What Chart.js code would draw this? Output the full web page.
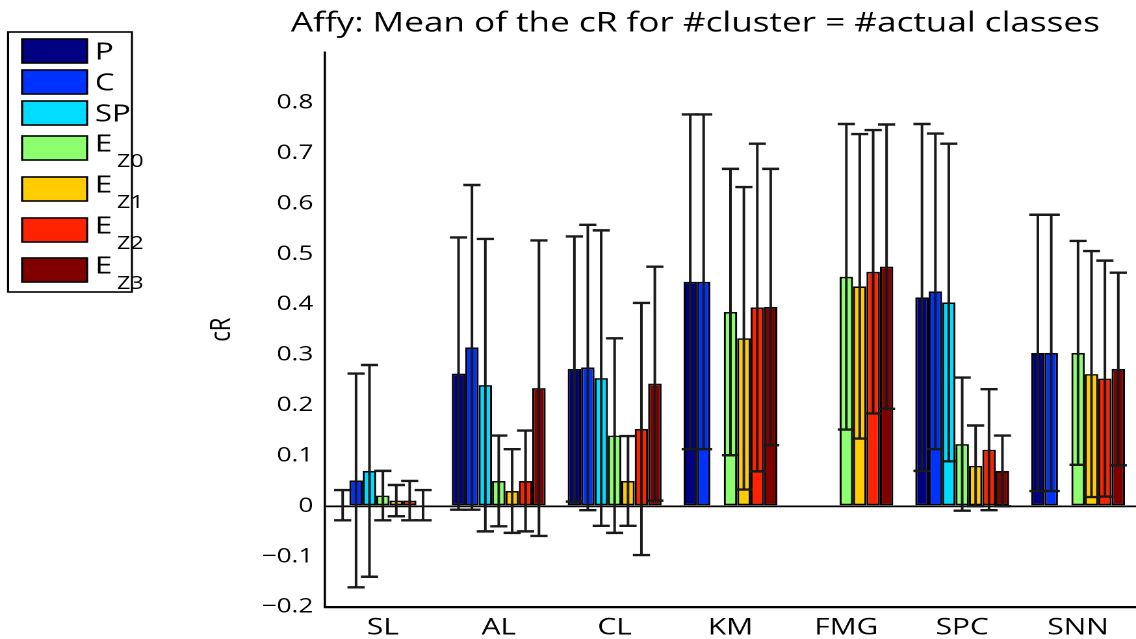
<!DOCTYPE html>
<html>
<head>
<meta charset="utf-8">
<script src="https://cdn.jsdelivr.net/npm/chart.js@4.4.1/dist/chart.umd.min.js"></script>
<style>
  html, body { margin: 0; padding: 0; background: #fff; overflow: hidden; }
  #wrap { position: absolute; left: 0; top: 0; width: 874px; height: 639px;
          transform: scaleX(1.29977); transform-origin: 0 0; }
</style>
</head>
<body>
<div id="wrap"><canvas id="c"></canvas></div>
<script>
// ---- data ----
const categories = ['SL', 'AL', 'CL', 'KM', 'FMG', 'SPC', 'SNN'];
const seriesMain = ['P', 'C', 'SP', 'E', 'E', 'E', 'E'];
const seriesSub  = ['', '', '', 'Z0', 'Z1', 'Z2', 'Z3'];
const seriesColors = ['#000080', '#0032ff', '#00dcff', '#8cff6e', '#ffcc00', '#ff2200', '#800000'];

const meanP   = [0.002, 0.263, 0.272, 0.445, null, 0.414, 0.304];
const meanC   = [0.051, 0.315, 0.275, 0.445, null, 0.426, 0.304];
const meanSP  = [0.070, 0.240, 0.254, null, null, 0.404, null];
const meanEz0 = [0.021, 0.050, 0.140, 0.385, 0.455, 0.123, 0.304];
const meanEz1 = [0.011, 0.030, 0.050, 0.333, 0.436, 0.080, 0.262];
const meanEz2 = [0.011, 0.050, 0.153, 0.394, 0.465, 0.112, 0.253];
const meanEz3 = [0.002, 0.234, 0.243, 0.395, 0.475, 0.070, 0.272];

const errP   = [0.030, 0.270, 0.263, 0.332, null, 0.344, 0.274];
const errC   = [0.212, 0.322, 0.283, 0.332, null, 0.313, 0.274];
const errSP  = [0.210, 0.290, 0.293, null, null, 0.315, null];
const errEz0 = [0.049, 0.090, 0.193, 0.284, 0.303, 0.132, 0.222];
const errEz1 = [0.031, 0.083, 0.089, 0.300, 0.302, 0.080, 0.244];
const errEz2 = [0.039, 0.100, 0.250, 0.325, 0.281, 0.120, 0.234];
const errEz3 = [0.030, 0.293, 0.232, 0.274, 0.282, 0.070, 0.191];

const yTickValues = [-0.2, -0.1, 0, 0.1, 0.2, 0.3, 0.4, 0.5, 0.6, 0.7, 0.8];
const titleText = 'Affy: Mean of the cR for #cluster = #actual classes';
const yTitle = 'cR';

const means = [meanP, meanC, meanSP, meanEz0, meanEz1, meanEz2, meanEz3];
const errs  = [errP, errC, errSP, errEz0, errEz1, errEz2, errEz3];

const FONT = '"Open Sans", "DejaVu Sans", sans-serif';
Chart.defaults.font.family = FONT;
Chart.defaults.color = '#000';

const datasets = means.map((m, i) => ({
  label: seriesMain[i] + seriesSub[i],
  data: m,
  errors: errs[i],
  backgroundColor: seriesColors[i],
  borderColor: '#000',
  borderWidth: 1.6,
  borderSkipped: false,
  categoryPercentage: 0.81,
  barPercentage: 1.0
}));

const errorBarPlugin = {
  id: 'errorBars',
  afterDatasetsDraw(chart) {
    const ctx = chart.ctx;
    const ys = chart.scales.y;
    ctx.save();
    ctx.strokeStyle = '#1a1a1a';
    chart.data.datasets.forEach((ds, i) => {
      const meta = chart.getDatasetMeta(i);
      meta.data.forEach((el, j) => {
        const m = ds.data[j], e = ds.errors[j];
        if (m === null || e === null) return;
        const x = el.x;
        const yt = ys.getPixelForValue(m + e);
        const yb = ys.getPixelForValue(m - e);
        const half = el.width * 0.64;
        ctx.lineWidth = 2;
        ctx.beginPath();
        ctx.moveTo(x, yt); ctx.lineTo(x, yb);
        ctx.stroke();
        ctx.lineWidth = 2.4;
        ctx.beginPath();
        ctx.moveTo(x - half, yt); ctx.lineTo(x + half, yt);
        ctx.moveTo(x - half, yb); ctx.lineTo(x + half, yb);
        ctx.stroke();
      });
    });
    ctx.restore();
  }
};

const decorPlugin = {
  id: 'decor',
  afterDraw(chart) {
    const ctx = chart.ctx;
    ctx.save();
    // title
    ctx.fillStyle = '#000';
    ctx.font = '27px ' + FONT;
    ctx.textAlign = 'center';
    ctx.textBaseline = 'alphabetic';
    ctx.fillText(titleText, 535, 31.5);
    // legend box
    ctx.lineWidth = 1.6;
    ctx.strokeStyle = '#000';
    ctx.fillStyle = '#fff';
    ctx.fillRect(6.2, 32, 95.3, 260);
    ctx.strokeRect(6.2, 32, 95.3, 260);
    const rowY = [51, 82, 113, 148, 189, 230, 270];
    chart.data.datasets.forEach((ds, i) => {
      const cy = rowY[i];
      ctx.fillStyle = ds.backgroundColor;
      ctx.fillRect(17, cy - 12, 50, 24);
      ctx.lineWidth = 1.6;
      ctx.strokeRect(17, cy - 12, 50, 24);
      ctx.fillStyle = '#000';
      ctx.textAlign = 'left';
      ctx.textBaseline = 'alphabetic';
      ctx.font = '24px ' + FONT;
      if (seriesSub[i]) {
        ctx.fillText(seriesMain[i], 73, cy + 3.5);
        ctx.font = '18px ' + FONT;
        ctx.fillText(seriesSub[i], 90, cy + 19);
      } else {
        ctx.fillText(seriesMain[i], 73, cy + 8.5);
      }
    });
    ctx.restore();
  }
};

new Chart(document.getElementById('c'), {
  type: 'bar',
  data: { labels: categories, datasets },
  plugins: [errorBarPlugin, decorPlugin],
  options: {
    responsive: true,
    maintainAspectRatio: false,
    devicePixelRatio: 2,
    animation: false,
    layout: { padding: { left: 0, right: 0, top: 52.4, bottom: 0 } },
    plugins: { legend: { display: false }, title: { display: false }, tooltip: { enabled: false } },
    scales: {
      x: {
        type: 'category',
        offset: true,
        grid: { display: false, drawTicks: false },
        border: { display: true, color: '#000', width: 2.2 },
        ticks: { font: { size: 23 }, color: '#000', padding: 7, maxRotation: 0, autoSkip: false },
        afterFit(s) { s.height = 32; }
      },
      y: {
        min: -0.2,
        max: 0.9,
        afterBuildTicks(s) {
          s.ticks = yTickValues.concat([0.9]).map(v => ({ value: v }));
        },
        grid: {
          drawTicks: false,
          color: c => (c.tick && Math.abs(c.tick.value) < 1e-9) ? '#000' : 'rgba(0,0,0,0)',
          lineWidth: 1.8
        },
        border: { display: true, color: '#000', width: 1.8 },
        ticks: {
          font: { size: 20 }, color: '#000', padding: 9,
          callback: v => {
            if (v > 0.85) return '';
            const r = Math.round(v * 10) / 10;
            if (r === 0) return '0';
            return (r < 0 ? '\u2212' : '') + Math.abs(r).toFixed(1);
          }
        },
        title: { display: true, text: yTitle, font: { size: 22 }, color: '#000', padding: { top: 157.6, bottom: 0 } },
        afterFit(s) { s.width = 250; }
      }
    }
  }
});
</script>
</body>
</html>
